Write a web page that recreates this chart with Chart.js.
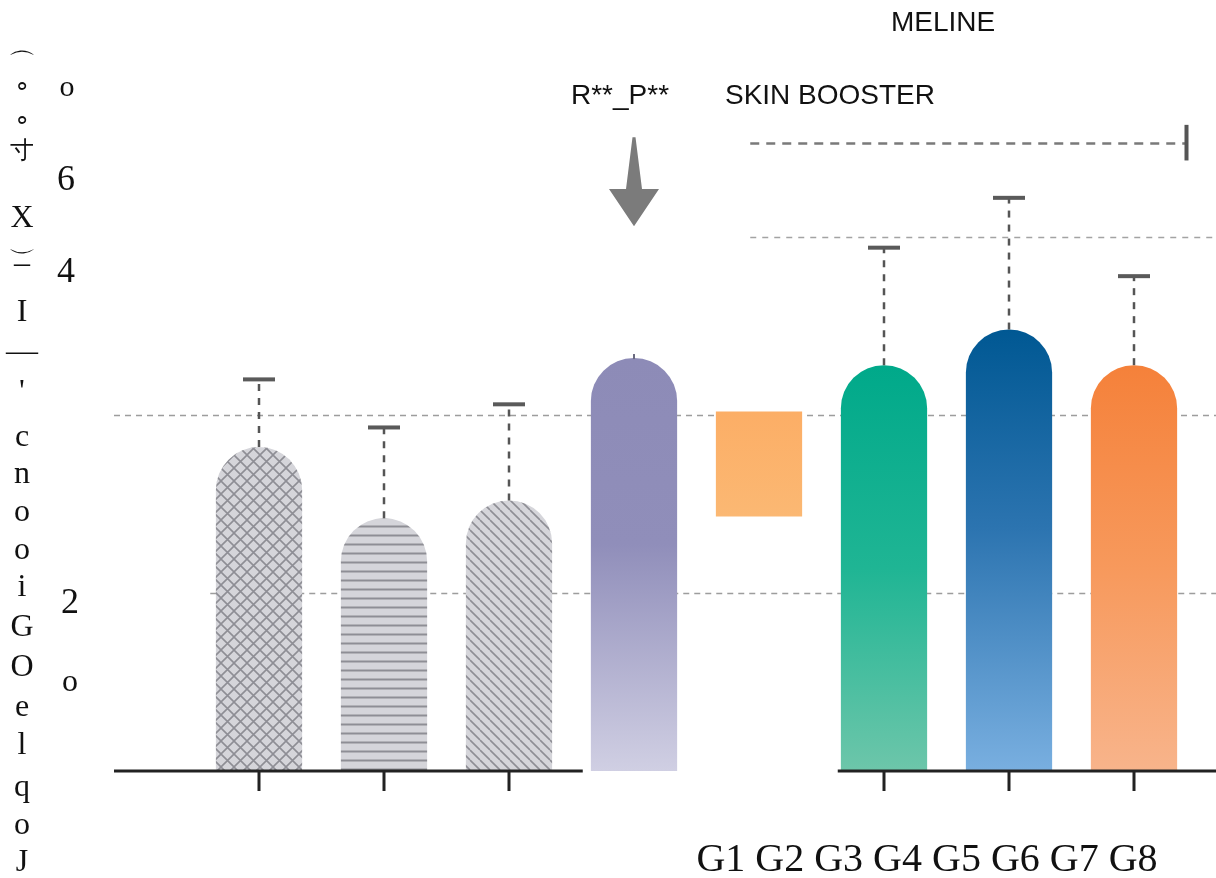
<!DOCTYPE html>
<html>
<head>
<meta charset="utf-8">
<script src="https://cdn.jsdelivr.net/npm/chart.js@4.4.1/dist/chart.umd.min.js"></script>
<style>
  body { margin: 0; background: #fff; }
  #wrap { position: relative; width: 1216px; height: 878px; overflow: hidden; }
  canvas { position: absolute; left: 0; top: 0; }
  .t { position: absolute; white-space: nowrap; color: #111; line-height: 1; }
  .sans { font-family: "Liberation Sans", Arial, sans-serif; font-size: 28px; transform: translate(-50%, -50%); }
  .serif { font-family: "Liberation Serif", "Times New Roman", serif; transform: translate(-50%, -50%); }
  .flip { transform: translate(-50%, -50%) rotate(180deg); }
</style>
</head>
<body>
<div id="wrap">
  <canvas id="chart" width="1216" height="878"></canvas>
</div>
<script>
// group labels and values (value units: one dashed grid step = 10)
var categories = ['G1', 'G2', 'G3', 'G4', 'G5', 'G6', 'G7', 'G8'];
var barLow  = [0, 0, 0, 0, 14.3, 0, 0, 0];
var barHigh = [18.2, 14.2, 15.2, 23.2, 20.2, 22.8, 24.8, 22.8];
var errorTop = [22.0, 19.3, 20.6, null, null, 29.4, 32.2, 27.8];
var gridValues = [10, 20, 30];
var bracketValue = 35.3;

// stray labels
var yLabels = [['o', 67, 86, 30], ['6', 66, 178, 36], ['4', 66, 270, 36], ['2', 70, 601, 36], ['o', 70, 680, 32]];
var sideChars = [['⌒', 64], ['∘', 86], ['∘', 120], ['寸', 150], ['X', 216], ['⌒', 240, true], ['–', 262], ['I', 310],
  ['—', 350], ["'", 390], ['c', 435], ['n', 472], ['o', 510], ['o', 548], ['i', 585], ['G', 625], ['O', 665],
  ['e', 705], ['l', 743], ['q', 785], ['o', 823], ['J', 860]];

var wrap = document.getElementById('wrap');
function addText(txt, x, y, cls, size) {
    var d = document.createElement('div');
    d.className = 't ' + cls;
    d.textContent = txt;
    d.style.left = x + 'px';
    d.style.top = y + 'px';
    if (size) d.style.fontSize = size + 'px';
    wrap.appendChild(d);
}
addText('MELINE', 943, 22, 'sans');
addText('R**_P**', 620, 95, 'sans');
addText('SKIN BOOSTER', 830, 95, 'sans');
yLabels.forEach(function (l) { addText(l[0], l[1], l[2], 'serif', l[3]); });
sideChars.forEach(function (c) {
    var size = 32;
    if (c[0] === '⌒') size = 28;
    if (c[0] === '寸') size = 24;
    if (c[0] === '∘') size = 26;
    addText(c[0], 22, c[1], c[2] ? 'serif flip' : 'serif', size);
});
addText(categories.join(' '), 927, 858, 'serif', 40);

// fill patterns for the grey bars
function makePattern(kind) {
    var c = document.createElement('canvas');
    var s = kind === 'cross' ? 13 : (kind === 'horiz' ? 9 : 10);
    c.width = s; c.height = s;
    var g = c.getContext('2d');
    g.fillStyle = '#d5d5da';
    g.fillRect(0, 0, s, s);
    g.strokeStyle = '#8e8e95';
    g.lineWidth = 1.6;
    g.beginPath();
    if (kind === 'cross') {
        g.moveTo(0, 0); g.lineTo(s, s);
        g.moveTo(s, 0); g.lineTo(0, s);
    } else if (kind === 'horiz') {
        g.lineWidth = 2;
        g.moveTo(0, 4.5); g.lineTo(s, 4.5);
    } else {
        for (var k = -1; k <= 1; k++) { g.moveTo(k * s, 0); g.lineTo(k * s + s, s); }
    }
    g.stroke();
    return g.createPattern(c, 'repeat');
}
var patterns = [makePattern('cross'), makePattern('horiz'), makePattern('diag')];

var gradStops = {
    3: [['#8d8bb7', 0], ['#908eba', 0.45], ['#d0cfe3', 1]],
    4: [['#fcae66', 0], ['#fbb873', 1]],
    5: [['#00a98a', 0], ['#1fb594', 0.5], ['#6dc6aa', 1]],
    6: [['#005893', 0], ['#2c74b0', 0.45], ['#79afe0', 1]],
    7: [['#f5813a', 0], ['#f7995c', 0.5], ['#f8b48b', 1]]
};

function barFill(ctx) {
    var i = ctx.dataIndex;
    if (i < 3) return patterns[i];
    var chart = ctx.chart;
    if (!chart.chartArea || !chart.scales.y) return gradStops[i][0][0];
    var y = chart.scales.y;
    var g = chart.ctx.createLinearGradient(0, y.getPixelForValue(barHigh[i]), 0, y.getPixelForValue(barLow[i]));
    gradStops[i].forEach(function (s) { g.addColorStop(s[1], s[0]); });
    return g;
}

// dashed reference lines, drawn behind the bars: [value, from index, to index, dash, width, colour]
var gridRuns = [
    [gridValues[0], -0.39, 7.66, [6, 5], 1.5, '#9d9d9d'],
    [gridValues[1], -1.16, 7.66, [6, 5], 1.5, '#9d9d9d'],
    [gridValues[2], 3.93, 7.66, [6, 6], 1.5, '#a3a3a3'],
    [bracketValue, 3.93, 7.42, [9, 7], 2.5, '#7a7a7a']
];

var decorPlugin = {
    id: 'decor',
    beforeDatasetsDraw: function (chart) {
        var c = chart.ctx, x = chart.scales.x, y = chart.scales.y;
        c.save();
        gridRuns.forEach(function (r) {
            var py = Math.round(y.getPixelForValue(r[0])) + 0.5;
            c.setLineDash(r[3]);
            c.lineWidth = r[4];
            c.strokeStyle = r[5];
            c.beginPath();
            c.moveTo(x.getPixelForValue(r[1]), py);
            c.lineTo(x.getPixelForValue(r[2]), py);
            c.stroke();
        });
        c.restore();
    },
    afterDatasetsDraw: function (chart) {
        var c = chart.ctx, x = chart.scales.x, y = chart.scales.y;
        var meta = chart.getDatasetMeta(0);
        c.save();
        // error bars
        errorTop.forEach(function (v, i) {
            if (v === null) return;
            var px = meta.data[i].x;
            var yb = y.getPixelForValue(barHigh[i]);
            var yc = y.getPixelForValue(v);
            c.setLineDash([7, 7]);
            c.lineWidth = 2.5;
            c.strokeStyle = '#555';
            c.beginPath();
            c.moveTo(px, yb); c.lineTo(px, yc);
            c.stroke();
            c.setLineDash([]);
            c.fillStyle = '#5a5a5a';
            c.fillRect(px - 16, yc - 2, 32, 4);
        });
        // small nub on G4
        var p4 = meta.data[3];
        c.fillStyle = '#6a6a80';
        c.fillRect(p4.x - 1, p4.y - 4, 2, 5);
        // bracket end
        c.fillStyle = '#555';
        c.fillRect(x.getPixelForValue(7.42) - 2, y.getPixelForValue(bracketValue + 1), 4, y.getPixelForValue(bracketValue - 1) - y.getPixelForValue(bracketValue + 1));
        // axis line in two pieces with ticks
        var y0 = y.getPixelForValue(0);
        c.strokeStyle = '#222';
        c.lineWidth = 3;
        c.beginPath();
        c.moveTo(x.getPixelForValue(-1.16), y0); c.lineTo(x.getPixelForValue(2.59), y0);
        c.moveTo(x.getPixelForValue(4.63), y0); c.lineTo(x.getPixelForValue(7.66), y0);
        [0, 1, 2, 5, 6, 7].forEach(function (i) {
            var px = x.getPixelForValue(i);
            c.moveTo(px, y0); c.lineTo(px, y0 + 20);
        });
        c.stroke();
        // arrow above G4
        var ax = x.getPixelForValue(3);
        var aTop = y.getPixelForValue(35.6), aNeck = y.getPixelForValue(32.7), aTip = y.getPixelForValue(30.6);
        c.fillStyle = '#7b7b7b';
        c.beginPath();
        c.moveTo(ax - 1.5, aTop); c.lineTo(ax + 1.5, aTop);
        c.lineTo(ax + 8, aNeck); c.lineTo(ax + 25, aNeck);
        c.lineTo(ax, aTip);
        c.lineTo(ax - 25, aNeck); c.lineTo(ax - 8, aNeck);
        c.closePath();
        c.fill();
        c.restore();
    }
};

var ctx = document.getElementById('chart').getContext('2d');
var chart = new Chart(ctx, {
    type: 'bar',
    data: {
        labels: categories,
        datasets: [{
            data: barHigh.map(function (h, i) { return [barLow[i], h]; }),
            backgroundColor: barFill,
            borderWidth: 0,
            borderRadius: function (c) { return c.dataIndex === 4 ? 0 : 43; },
            borderSkipped: 'start',
            barPercentage: 0.69,
            categoryPercentage: 1.0
        }]
    },
    options: {
        responsive: false,
        animation: false,
        layout: { padding: { left: 196.5, right: 19.5, top: 59, bottom: 107 } },
        scales: {
            x: { type: 'category', offset: true, display: false },
            y: { min: 0, max: 40, display: false }
        },
        plugins: {
            legend: { display: false },
            tooltip: { enabled: false }
        }
    },
    plugins: [decorPlugin]
});
</script>
</body>
</html>
